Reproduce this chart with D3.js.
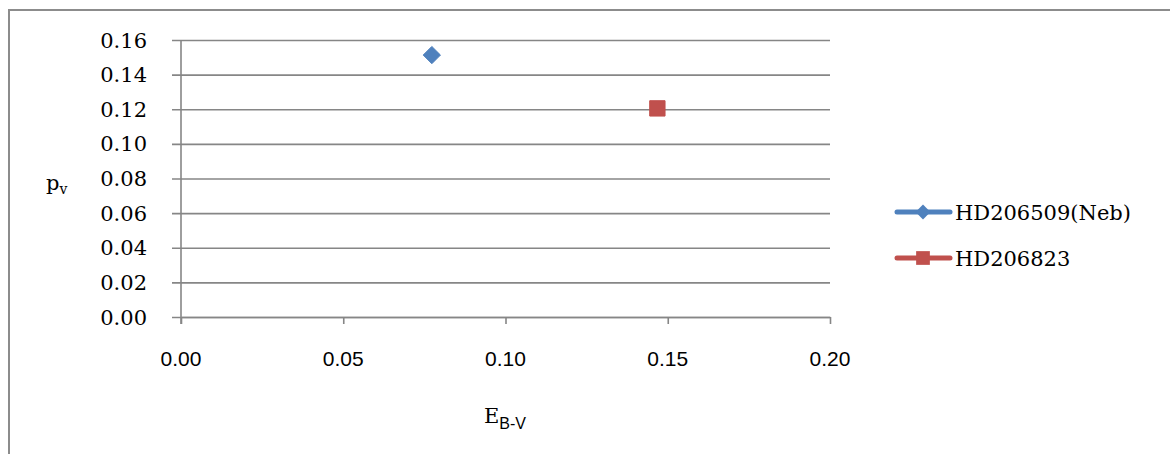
<!DOCTYPE html>
<html>
<head>
<meta charset="utf-8">
<script src="https://cdn.jsdelivr.net/npm/d3@7"></script>
<style>
  html, body { margin: 0; padding: 0; background: #fff; }
  svg { display: block; }
</style>
</head>
<body>
<svg id="chart" width="1170" height="454"></svg>
<script>
// Polarization vs. colour excess for two stars
const seriesNames = ["HD206509(Neb)", "HD206823"];
const ebvValues = [0.0773, 0.1468];
const pvValues = [0.1513, 0.1205];
const seriesColors = ["#4F81BD", "#C0504D"];
const seriesSymbols = ["diamond", "square"];
const xTicks = [0.00, 0.05, 0.10, 0.15, 0.20];
const yTicks = [0.00, 0.02, 0.04, 0.06, 0.08, 0.10, 0.12, 0.14, 0.16];

const svg = d3.select("#chart");
const gridColor = "#868686";
const serif = "'DejaVu Serif', 'Liberation Serif', serif";
const narrow = "'Liberation Sans Narrow', 'Liberation Sans', Arial, sans-serif";

// outer chart frame
svg.append("rect")
  .attr("x", 9).attr("y", 10)
  .attr("width", 1180).attr("height", 470)
  .attr("fill", "#fff")
  .attr("stroke", "#8c8c8c").attr("stroke-width", 2);

const plot = { left: 181, right: 830, top: 40, bottom: 317 };

const x = d3.scaleLinear().domain([0, 0.2]).range([plot.left, plot.right]);
const y = d3.scaleLinear().domain([0, 0.16]).range([plot.bottom, plot.top]);

// horizontal gridlines plus y-axis ticks
const yAxis = d3.axisLeft(y)
  .tickValues(yTicks)
  .tickSize(-(plot.right - plot.left))
  .tickPadding(0)
  .tickFormat("");
const gy = svg.append("g").attr("transform", `translate(${plot.left},0)`).call(yAxis);
gy.select(".domain").remove();
gy.selectAll(".tick line")
  .attr("x1", -9)
  .attr("stroke", gridColor).attr("stroke-width", 1.6);

svg.append("g").selectAll("text")
  .data(yTicks)
  .join("text")
  .attr("x", 147)
  .attr("y", d => y(d))
  .attr("dy", "0.36em")
  .attr("text-anchor", "end")
  .attr("font-family", serif)
  .attr("font-size", 21)
  .attr("fill", "#000")
  .text(d => d3.format(".2f")(d));

// vertical axis line
svg.append("line")
  .attr("x1", plot.left).attr("x2", plot.left)
  .attr("y1", plot.top).attr("y2", plot.bottom + 7)
  .attr("stroke", gridColor).attr("stroke-width", 1.6);

// x-axis
const xAxis = d3.axisBottom(x)
  .tickValues(xTicks)
  .tickSize(7)
  .tickSizeOuter(0)
  .tickFormat("");
const gx = svg.append("g").attr("transform", `translate(0,${plot.bottom})`).call(xAxis);
gx.select(".domain").attr("stroke", gridColor).attr("stroke-width", 1.6);
gx.selectAll(".tick line").attr("stroke", gridColor).attr("stroke-width", 1.6);

svg.append("g").selectAll("text")
  .data(xTicks)
  .join("text")
  .attr("x", d => x(d))
  .attr("y", 358)
  .attr("dy", "0.36em")
  .attr("text-anchor", "middle")
  .attr("font-family", narrow)
  .attr("font-size", 21)
  .attr("fill", "#000")
  .text(d => d3.format(".2f")(d));

// axis titles
const yt = svg.append("text")
  .attr("x", 46).attr("y", 190)
  .attr("font-family", serif).attr("font-size", 21).attr("fill", "#000");
yt.append("tspan").text("p");
yt.append("tspan").attr("font-size", 14).attr("dy", 4).text("v");

const xt = svg.append("text")
  .attr("x", 505).attr("y", 423)
  .attr("text-anchor", "middle")
  .attr("font-family", serif).attr("font-size", 21).attr("fill", "#000");
xt.append("tspan").text("E");
xt.append("tspan").attr("font-family", narrow).attr("font-size", 16).attr("dy", 6).text("B-V");

// markers
const symbolFor = s => s === "diamond" ? d3.symbolDiamond2 : d3.symbolSquare2;
const sizeFor = s => s === "diamond" ? 190 : 300;

const pts = seriesNames.map((n, i) => ({ name: n, ebv: ebvValues[i], pv: pvValues[i], color: seriesColors[i], sym: seriesSymbols[i] }));

svg.append("g").selectAll("path")
  .data(pts)
  .join("path")
  .attr("transform", d => `translate(${x(d.ebv)},${y(d.pv)})`)
  .attr("d", d => d3.symbol(symbolFor(d.sym), sizeFor(d.sym))())
  .attr("fill", d => d.color)
  .attr("stroke", d => d.color).attr("stroke-width", 1);

// legend
const legend = svg.append("g");
const legendY = [212, 258];
pts.forEach((d, i) => {
  const g = legend.append("g").attr("transform", `translate(0,${legendY[i]})`);
  g.append("line")
    .attr("x1", 897).attr("x2", 950)
    .attr("stroke", d.color).attr("stroke-width", 5).attr("stroke-linecap", "round");
  g.append("path")
    .attr("transform", "translate(923,0)")
    .attr("d", d3.symbol(symbolFor(d.sym), d.sym === "diamond" ? 140 : 240)())
    .attr("fill", d.color);
  g.append("text")
    .attr("x", 955).attr("y", 0).attr("dy", "0.36em")
    .attr("font-family", serif).attr("font-size", 21).attr("fill", "#000")
    .text(d.name);
});
</script>
</body>
</html>
